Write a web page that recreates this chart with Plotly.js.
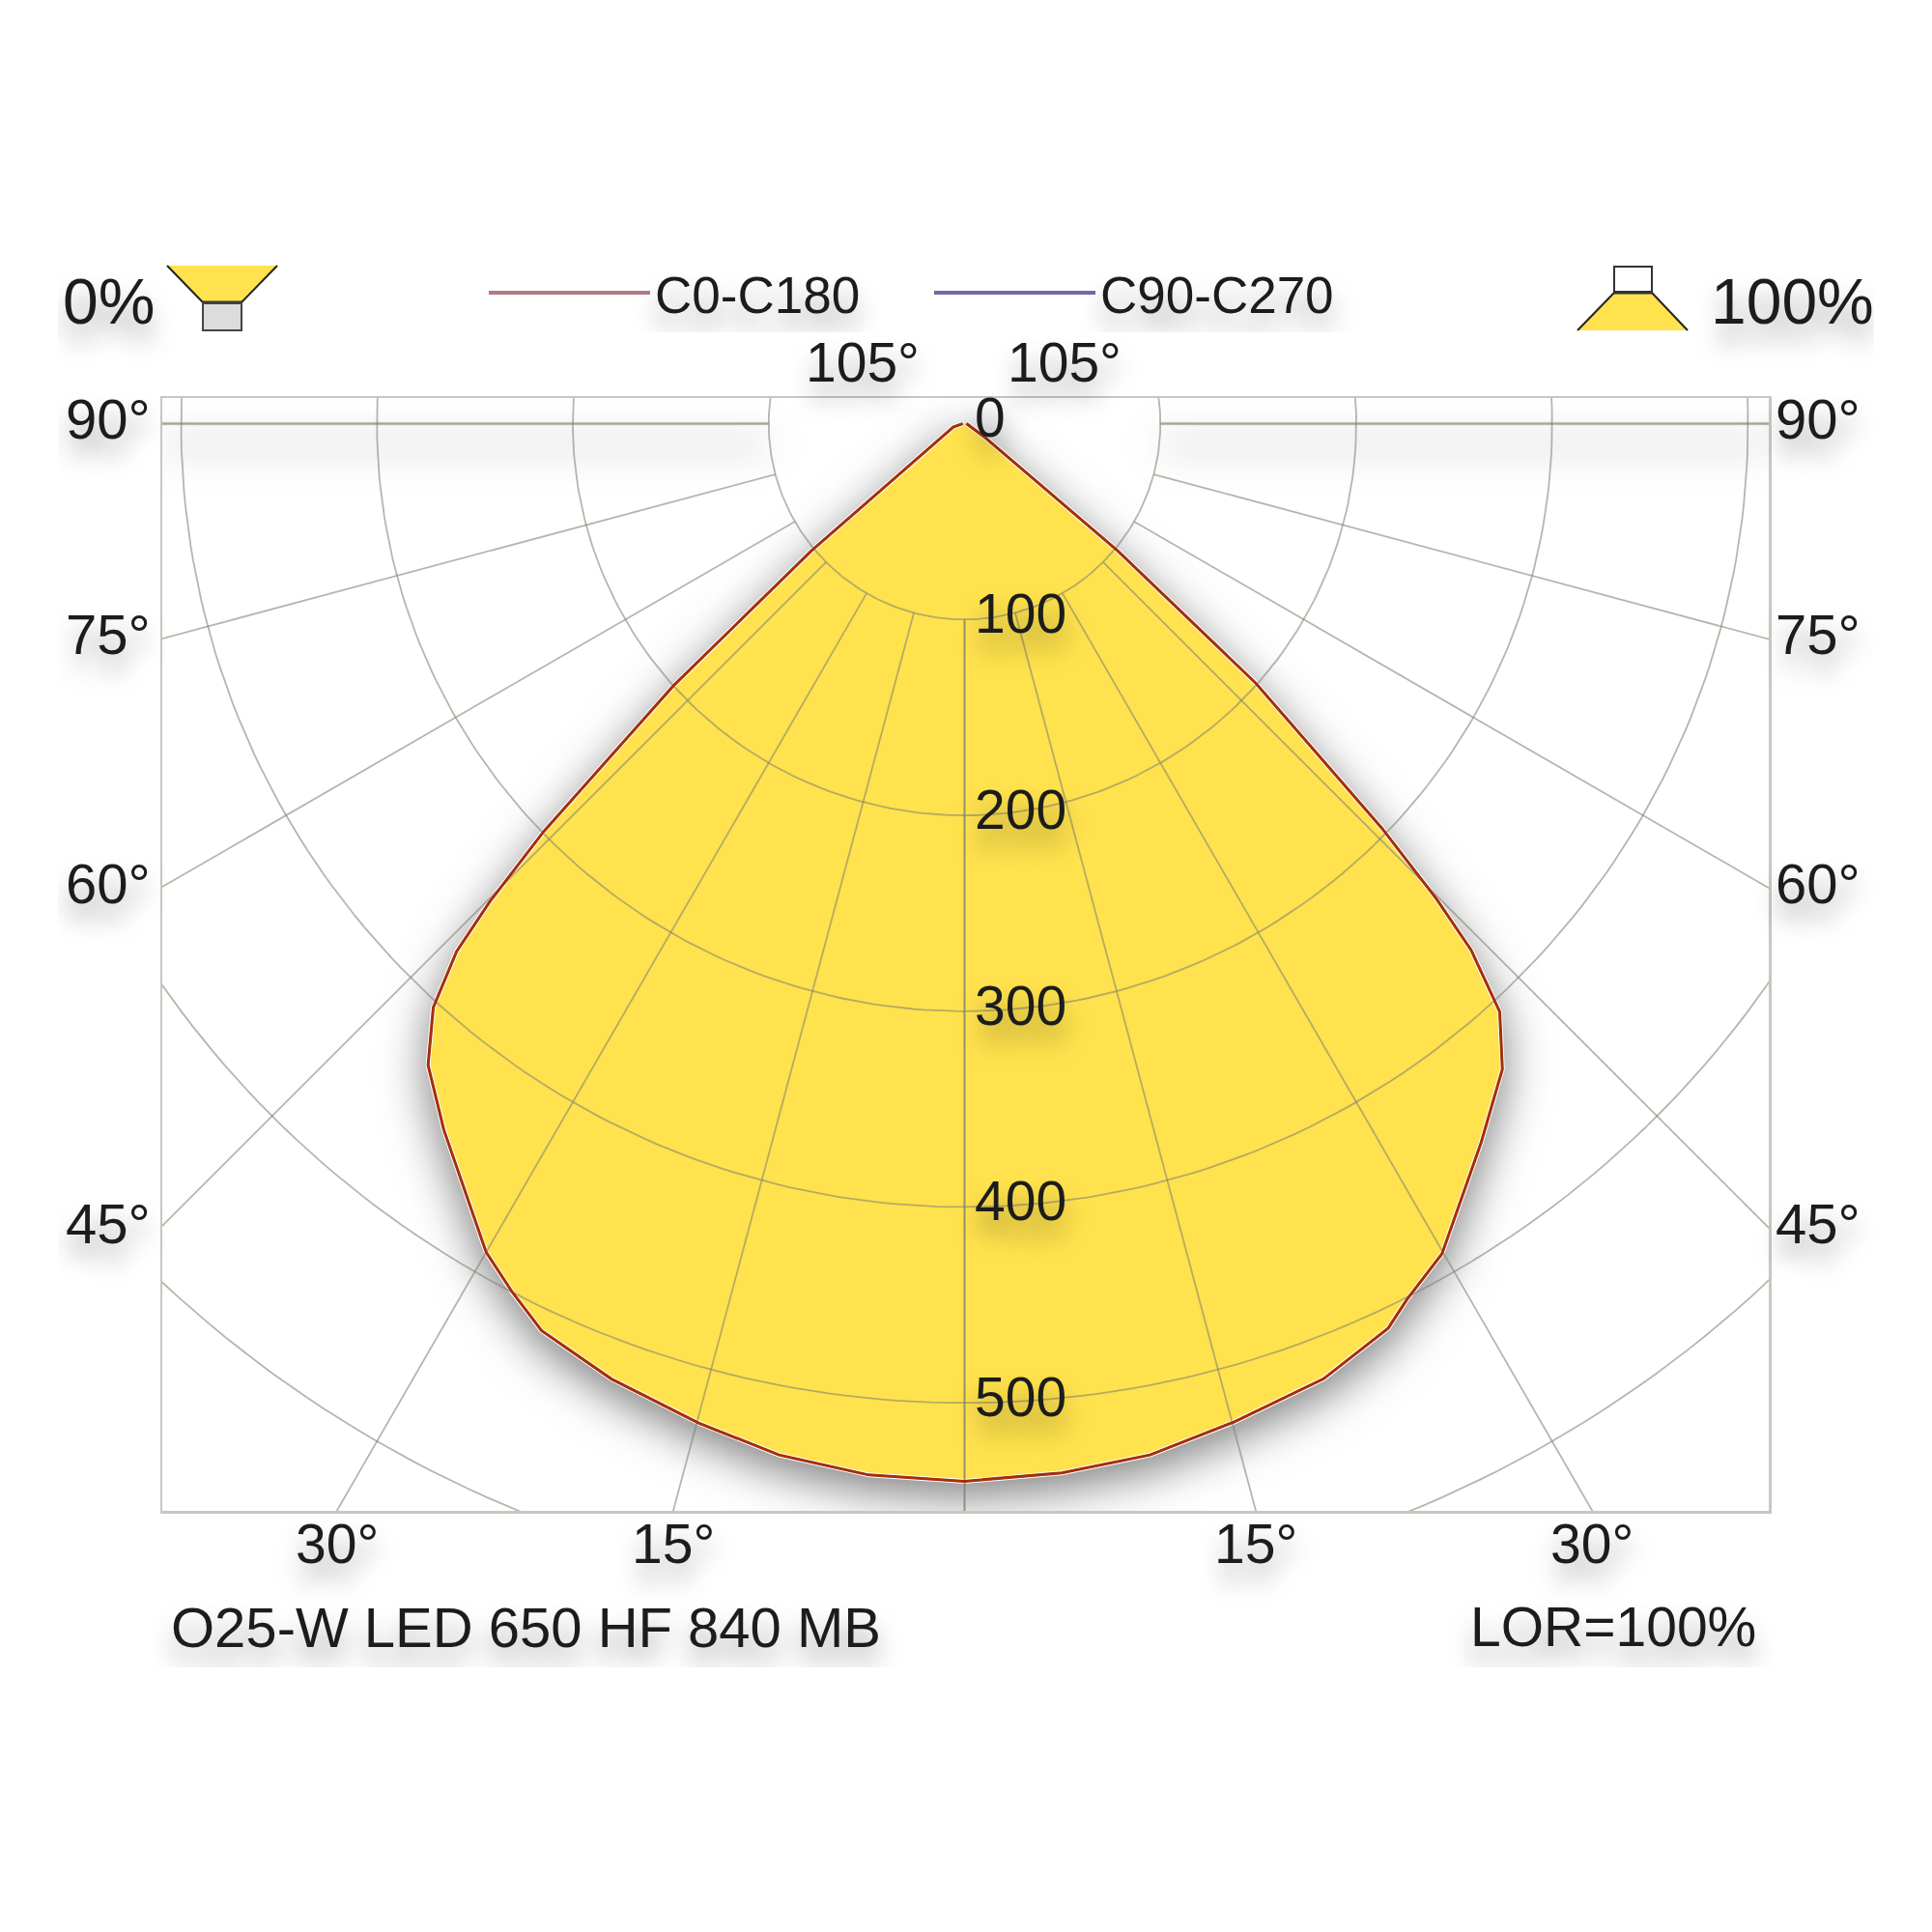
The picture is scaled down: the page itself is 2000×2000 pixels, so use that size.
<!DOCTYPE html>
<html>
<head>
<meta charset="utf-8">
<script src="https://cdn.plot.ly/plotly-3.0.1.min.js"></script>
<style>
  html, body { margin: 0; background: #fff; }
  #chart { position: absolute; left: 60px; top: 274px; width: 1880px; height: 1452px; }
</style>
</head>
<body>
<div id="chart"></div>
<script>
// gamma angle (deg) and intensity (cd/klm)
var gammaLeft = [0, 5.2, 10.2, 14.9, 20.3, 25, 27.5, 30, 36.4, 39.9, 42.3, 43.9, 44.8, 45.9, 48, 50.3, 73, 90];
var intensityLeft = [540, 539, 535, 528, 520, 511, 500, 488.5, 448, 427, 403, 374, 344, 299, 200, 101.6, 6, 1];
var gammaRight = [0, 5.3, 10.2, 15.1, 20.6, 25.1, 26.8, 29.9, 35.7, 39.8, 42.3, 43.9, 44.8, 45.9, 48.3, 50.3, 56, 90];
var intensityRight = [540, 538, 535, 528, 521, 510, 501, 489, 452, 429, 406, 373, 342, 296.5, 199, 101.6, 12.8, 1];

var radiusTicks = [0, 100, 200, 300, 400, 500];
var circleRadii = [100, 200, 300, 400, 500, 600];
var spokeAngles = [0, 15, 30, 45, 60, 75, 90];
var sideAngles = [90, 75, 60, 45];
var bottomAngles = [30, 15];
var topAngle = 105;

var xRange = [-409.6, 410.6];
var yRange = [-555.1, 13.1];

var textColor = '#1c1c1c';
var gridColor = 'rgba(130,130,115,0.58)';
var fontName = '"Liberation Sans", Arial, sans-serif';
var softShadow = '0 18px 24px rgba(0,0,0,0.35)';

function rad(d) { return d * Math.PI / 180; }

function outline() {
    var xs = [], ys = [];
    for (var i = gammaLeft.length - 1; i >= 0; i--) {
        xs.push(-intensityLeft[i] * Math.sin(rad(gammaLeft[i])));
        ys.push(-intensityLeft[i] * Math.cos(rad(gammaLeft[i])));
    }
    for (var j = 1; j < gammaRight.length; j++) {
        xs.push(intensityRight[j] * Math.sin(rad(gammaRight[j])));
        ys.push(-intensityRight[j] * Math.cos(rad(gammaRight[j])));
    }
    return {x: xs, y: ys};
}

// polar grid, the axis frame clips it
function gridLines() {
    var xs = [], ys = [];
    circleRadii.forEach(function (r) {
        for (var a = -110; a <= 110; a += 1) {
            xs.push(r * Math.sin(rad(a)));
            ys.push(-r * Math.cos(rad(a)));
        }
        xs.push(null); ys.push(null);
    });
    spokeAngles.forEach(function (a) {
        [-1, 1].forEach(function (side) {
            xs.push(side * 100 * Math.sin(rad(a)), side * 900 * Math.sin(rad(a)), null);
            ys.push(-100 * Math.cos(rad(a)), -900 * Math.cos(rad(a)), null);
        });
    });
    return {x: xs, y: ys};
}

var curve = outline();
var grid = gridLines();

var traces = [
    // the heavier 90 degree lines, they throw the soft band under the top of the frame
    {x: [-410, -100, null, 100, 411], y: [0, 0, null, 0, 0], mode: 'lines', line: {color: '#d2d2ca', width: 3.5}, showlegend: false, hoverinfo: 'skip'},
    {x: curve.x, y: curve.y, mode: 'lines', fill: 'toself', fillcolor: '#ffe24d', line: {color: '#ffffff', width: 5}, showlegend: false, hoverinfo: 'skip'},
    {x: grid.x, y: grid.y, mode: 'lines', line: {color: gridColor, width: 1.8}, showlegend: false, hoverinfo: 'skip'},
    {x: curve.x, y: curve.y, mode: 'lines', line: {color: '#5a4a90', width: 2}, showlegend: false},
    {x: curve.x, y: curve.y, mode: 'lines', line: {color: '#a5300a', width: 3}, showlegend: false},
    {x: [null], y: [null], mode: 'lines', name: 'C0-C180', line: {color: '#b27a82', width: 4}},
    {x: [null], y: [null], mode: 'lines', name: 'C90-C270', line: {color: '#7068a8', width: 4}}
];

// frame in page pixels, for the things sitting outside the axes
var frame = {left: 168, right: 1831, top: 412, bottom: 1564};
function px(x) { return (x - frame.left) / (frame.right - frame.left); }
function py(y) { return (frame.bottom - y) / (frame.bottom - frame.top); }

function label(text, x, y, size, extra) {
    var a = {
        text: text, x: x, y: y, showarrow: false,
        xanchor: 'center', yanchor: 'middle',
        font: {family: fontName, size: size, color: textColor, shadow: softShadow}
    };
    for (var k in extra) a[k] = extra[k];
    return a;
}
function pageLabel(text, x, y, size, anchor) {
    return label(text, px(x), py(y), size, {xref: 'paper', yref: 'paper', xanchor: anchor || 'center'});
}

var annotations = [];
radiusTicks.forEach(function (r) {
    annotations.push(label(String(r), 4, -r + 3, 57, {xref: 'x', yref: 'y', xanchor: 'left'}));
});
sideAngles.forEach(function (a) {
    var y = a === 90 ? 0 : -xRange[1] / Math.tan(rad(a));
    annotations.push(label(a + '°', xRange[0], y, 58, {xref: 'x', yref: 'y', xshift: -56, yshift: 5}));
    annotations.push(label(a + '°', xRange[1], y, 58, {xref: 'x', yref: 'y', xshift: 51, yshift: 5}));
});
bottomAngles.forEach(function (a) {
    var x = -yRange[0] * Math.tan(rad(a));
    annotations.push(label(a + '°', -x, yRange[0], 57, {xref: 'x', yref: 'y', yshift: -34}));
    annotations.push(label(a + '°', x, yRange[0], 57, {xref: 'x', yref: 'y', yshift: -34}));
});
annotations.push(pageLabel(topAngle + '°', 893, 375, 57));
annotations.push(pageLabel(topAngle + '°', 1102, 375, 57));
annotations.push(pageLabel('0%', 112, 312, 66));
annotations.push(pageLabel('100%', 1855, 312, 66));
annotations.push(pageLabel('O25-W LED 650 HF 840 MB', 175, 1684, 58, 'left'));
annotations.push(pageLabel('LOR=100%', 1820, 1684, 57, 'right'));

function poly(points, fill, line, width) {
    var d = points.map(function (p, i) {
        return (i ? 'L' : 'M') + px(p[0]) + ',' + py(p[1]);
    }).join(' ') + ' Z';
    return {type: 'path', xref: 'paper', yref: 'paper', path: d, fillcolor: fill,
            line: {color: line, width: width}, layer: 'above'};
}
function seg(a, b, color, width) {
    return {type: 'line', xref: 'paper', yref: 'paper', x0: px(a[0]), y0: py(a[1]), x1: px(b[0]), y1: py(b[1]),
            line: {color: color, width: width}, layer: 'above'};
}

// the two little luminaire icons
var shapes = [
    poly([[173, 275], [287, 275], [250, 313], [210, 313]], '#ffe24d', 'rgba(0,0,0,0)', 0),
    seg([173, 275], [210, 313], '#222', 2),
    seg([287, 275], [250, 313], '#222', 2),
    seg([210, 313], [250, 313], '#333', 3),
    poly([[210, 314], [250, 314], [250, 342], [210, 342]], '#dcdcdc', '#444', 2),
    poly([[1671, 276], [1710, 276], [1710, 302], [1671, 302]], '#ffffff', '#333', 2),
    poly([[1671, 303], [1710, 303], [1747, 342], [1633, 342]], '#ffe24d', 'rgba(0,0,0,0)', 0),
    seg([1671, 303], [1633, 342], '#222', 2),
    seg([1710, 303], [1747, 342], '#222', 2),
    seg([1671, 303], [1710, 303], '#333', 3)
];

var axisBase = {showgrid: false, zeroline: false, showticklabels: false, ticks: '',
                showline: true, mirror: true, linecolor: '#c8c8c0', linewidth: 2.5, fixedrange: true};

var layout = {
    width: 1880,
    height: 1452,
    margin: {l: 108, r: 109, t: 138, b: 162},
    paper_bgcolor: '#ffffff',
    plot_bgcolor: 'rgba(0,0,0,0)',
    xaxis: Object.assign({range: xRange}, axisBase),
    yaxis: Object.assign({range: yRange}, axisBase),
    showlegend: true,
    legend: {
        // container refs so the legend does not push the top margin
        orientation: 'h', xref: 'container', yref: 'container',
        x: (501 - 60) / 1880, y: 1 - (303 - 274) / 1452, xanchor: 'left', yanchor: 'middle',
        itemwidth: 167, entrywidth: 279, entrywidthmode: 'pixels',
        bgcolor: 'rgba(0,0,0,0)',
        font: {family: fontName, size: 53, color: textColor, shadow: softShadow}
    },
    annotations: annotations,
    shapes: shapes
};

Plotly.newPlot('chart', traces, layout, {displayModeBar: false, staticPlot: true}).then(function () {
    var groups = document.querySelectorAll('.scatterlayer .trace');
    groups[0].style.filter = 'drop-shadow(0 22px 20px rgba(0,0,0,0.7))';
    groups[1].style.filter = 'drop-shadow(0 14px 24px rgba(0,0,0,0.5))';
});
</script>
</body>
</html>
